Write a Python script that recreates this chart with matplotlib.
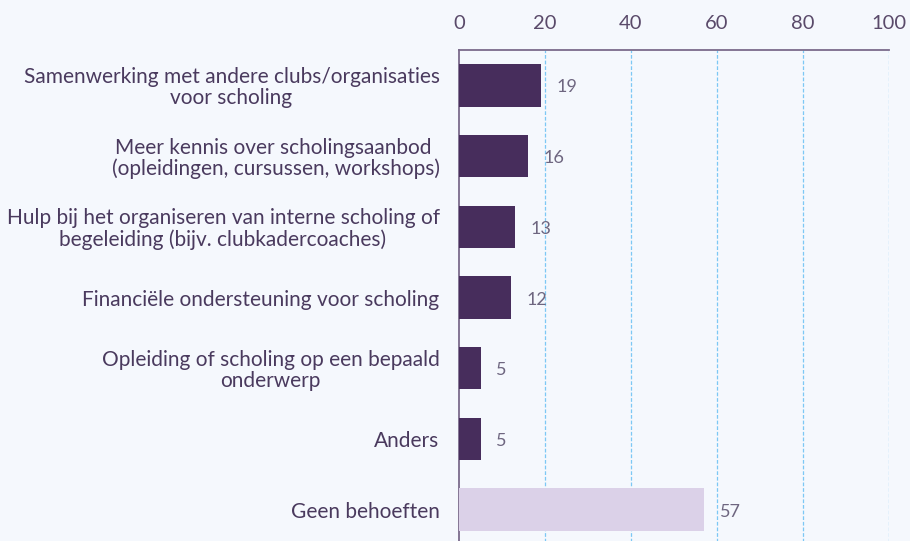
import matplotlib
matplotlib.use("Agg")
import matplotlib.pyplot as plt

categories = [
    "Samenwerking met andere clubs/organisaties\nvoor scholing",
    "Meer kennis over scholingsaanbod \n(opleidingen, cursussen, workshops)",
    "Hulp bij het organiseren van interne scholing of\nbegeleiding (bijv. clubkadercoaches)",
    "Financiële ondersteuning voor scholing",
    "Opleiding of scholing op een bepaald\nonderwerp",
    "Anders",
    "Geen behoeften",
]
values = [19, 16, 13, 12, 5, 5, 57]
colors = ["#472d5c"] * 6 + ["#dbd1e8"]
xticks = [0, 20, 40, 60, 80, 100]

plt.rcParams['font.family'] = ['Lato', 'DejaVu Sans']
bg = "#f5f8fd"
fig = plt.figure(figsize=(9.1, 5.41), dpi=100, facecolor=bg)
ax = fig.add_axes([459/910, 1 - 545/541, 430/910, 495/541], facecolor=bg)

y = list(range(len(categories)))
ax.barh(y, values, height=0.6, color=colors, zorder=3)
for yi, v in zip(y, values):
    ax.text(v + 3.7, yi + 0.03, str(v), va='center', ha='left', fontsize=13, color='#6e6680', zorder=4)

ax.set_xlim(0, 100)
ax.set_ylim(len(categories) - 0.5, -0.5)
ax.set_yticks(y)
ax.set_yticklabels(categories, fontsize=15, color='#4a3a5e', multialignment='center', linespacing=1.05)
ax.set_xticks(xticks)
ax.set_xticklabels([str(t) for t in xticks], fontsize=14.5, color='#5a4a6a')
ax.xaxis.tick_top()
ax.tick_params(axis='x', length=0, pad=13)
ax.tick_params(axis='y', length=0, pad=14)

for t in xticks[1:]:
    ax.axvline(t, color='#7cc8f5', linestyle=(0, (3, 1.5)), linewidth=0.9, zorder=1)

for s in ['right', 'bottom']:
    ax.spines[s].set_visible(False)
for s in ['top', 'left']:
    ax.spines[s].set_color('#7b6b8c')
    ax.spines[s].set_linewidth(1.3)

fig.savefig("out.png", dpi=100, facecolor=bg)
